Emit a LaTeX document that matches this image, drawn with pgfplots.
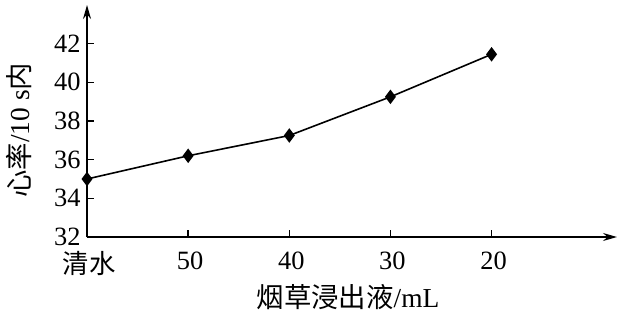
\documentclass[border=0pt]{standalone}
\usepackage{pgfplots}
\pgfplotsset{compat=1.18}
\usetikzlibrary{arrows.meta}
\usepackage{fontspec}
\setmainfont{Liberation Serif}
\newfontfamily\cjk{Noto Sans CJK SC}
\begin{document}
\begin{tikzpicture}
\begin{axis}[
  scale only axis,
  width=530bp, height=232bp,
  xmin=0, xmax=5.24,
  ymin=32, ymax=44,
  axis lines=left,
  axis line style={line width=1.6pt, -{Stealth[length=14pt,width=8pt]}},
  xtick={0,1,2,3,4},
  xticklabels={{\cjk 清水},50,40,30,20},
  ytick={32,34,36,38,40,42},
  tick align=inside,
  major tick length=7pt,
  tick style={line width=1.5pt, black},
  /pgf/number format/assume math mode=true,
  ticklabel style={font=\fontsize{26.5}{30}\selectfont},
  xticklabel style={yshift=-11pt, xshift=2pt},
  yticklabel style={xshift=-3pt},
  xlabel={{\cjk 烟草浸出液}/mL},
  ylabel={{\cjk 心率}/10 s{\cjk 内}},
  label style={font=\fontsize{27.5}{30}\selectfont},
  xlabel style={at={(axis description cs:0.4925,-0.2586)}, anchor=center},
  ylabel style={at={(axis description cs:-0.1280,0.46)}, anchor=center},
  clip=false,
]
\addplot[black, line width=1.6pt, mark=diamond*, mark size=6pt, mark options={fill=black}]
  coordinates {(0,35.0) (1,36.2) (2,37.25) (3,39.25) (4,41.45)};
\path (rel axis cs:-0.1642,1.0216) (rel axis cs:1.0038,-0.3405);
\end{axis}
\end{tikzpicture}
\end{document}
